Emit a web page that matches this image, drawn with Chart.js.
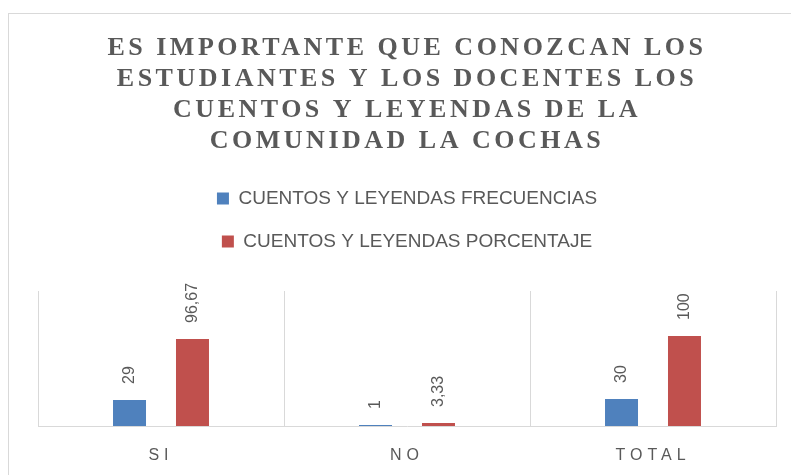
<!DOCTYPE html>
<html lang="es">
<head>
<meta charset="utf-8">
<title>Cuentos y leyendas</title>
<script src="https://cdn.jsdelivr.net/npm/chart.js@4.4.1/dist/chart.umd.min.js"></script>
<style>
    html, body { margin: 0; padding: 0; background: #fff; overflow: hidden; }
    #marco {
        position: absolute; left: 8px; top: 13px;
        width: 900px; height: 600px;
        border: 1px solid #d9d9d9;
    }
    #contenedor { position: absolute; left: 0; top: 0; width: 791px; height: 475px; }
</style>
</head>
<body>
<div id="marco"></div>
<div id="contenedor"><canvas id="grafico"></canvas></div>
<script>
// Datos
const categorias = ["SI", "NO", "TOTAL"];
const frecuencias = [29, 1, 30];
const porcentajes = [96.67, 3.33, 100];

const titulo = [
    "ES IMPORTANTE QUE CONOZCAN LOS",
    "ESTUDIANTES Y LOS DOCENTES LOS",
    "CUENTOS Y LEYENDAS DE LA",
    "COMUNIDAD LA COCHAS"
];

const GRIS = "#595959";
const LINEA = "#d9d9d9";

// espaciado entre letras para el titulo y las etiquetas del eje x
const espaciado = {
    id: "espaciado",
    beforeDraw(chart) {
        const tb = chart.titleBlock;
        if (tb && !tb._parcheado) {
            const orig = tb.draw.bind(tb);
            tb.draw = function (area) {
                const c = chart.ctx;
                c.save();
                c.letterSpacing = "3.5px";
                orig(area);
                c.restore();
            };
            tb._parcheado = true;
        }
        const x = chart.scales.x;
        if (x && !x._parcheado) {
            const origLab = x.drawLabels.bind(x);
            x.drawLabels = function (area) {
                const c = chart.ctx;
                c.save();
                c.letterSpacing = "5px";
                origLab(area);
                c.restore();
            };
            x._parcheado = true;
        }
    }
};

// etiquetas de valor giradas encima de cada barra
const etiquetas = {
    id: "etiquetas",
    afterDatasetsDraw(chart) {
        const ctx = chart.ctx;
        chart.data.datasets.forEach((ds, i) => {
            const meta = chart.getDatasetMeta(i);
            meta.data.forEach((barra, j) => {
                const texto = String(ds.data[j]).replace(".", ",");
                ctx.save();
                ctx.translate(barra.x, barra.y - 16);
                ctx.rotate(-Math.PI / 2);
                ctx.font = "16px 'Liberation Sans', Arial, sans-serif";
                ctx.fillStyle = GRIS;
                ctx.textAlign = "left";
                ctx.textBaseline = "middle";
                ctx.fillText(texto, 0, 0);
                ctx.restore();
            });
        });
    }
};

new Chart(document.getElementById("grafico"), {
    type: "bar",
    data: {
        labels: categorias,
        datasets: [
            {
                label: "CUENTOS Y LEYENDAS FRECUENCIAS",
                data: frecuencias,
                backgroundColor: "#4F81BD"
            },
            {
                label: "CUENTOS Y LEYENDAS PORCENTAJE",
                data: porcentajes,
                backgroundColor: "#C0504D"
            }
        ]
    },
    options: {
        responsive: true,
        maintainAspectRatio: false,
        animation: false,
        categoryPercentage: 0.512,
        barPercentage: 0.524,
        layout: { padding: { left: 38, right: 15, top: 0, bottom: 0 } },
        plugins: {
            title: {
                display: true,
                text: titulo,
                color: GRIS,
                font: { family: "'Liberation Serif', 'Times New Roman', serif", size: 26, weight: "bold", lineHeight: "31px" },
                padding: { top: 33, bottom: 8 }
            },
            subtitle: {
                // espacio entre la leyenda y el area del grafico
                display: true,
                text: "",
                weight: 500,
                font: { size: 10, lineHeight: "30px" },
                padding: 0
            },
            legend: {
                position: "top",
                labels: {
                    color: GRIS,
                    font: { family: "'Liberation Sans', Arial, sans-serif", size: 19 },
                    boxWidth: 12,
                    boxHeight: 12,
                    padding: 24
                }
            },
            tooltip: { enabled: false }
        },
        scales: {
            x: {
                grid: { color: LINEA, offset: true, drawTicks: false },
                border: { color: LINEA },
                ticks: {
                    color: GRIS,
                    font: { family: "'Liberation Sans', Arial, sans-serif", size: 16 },
                    padding: 20
                },
                afterFit(escala) {
                    escala.height = 49;
                }
            },
            y: {
                display: false,
                min: 0,
                max: 150
            }
        }
    },
    plugins: [espaciado, etiquetas]
});
</script>
</body>
</html>
